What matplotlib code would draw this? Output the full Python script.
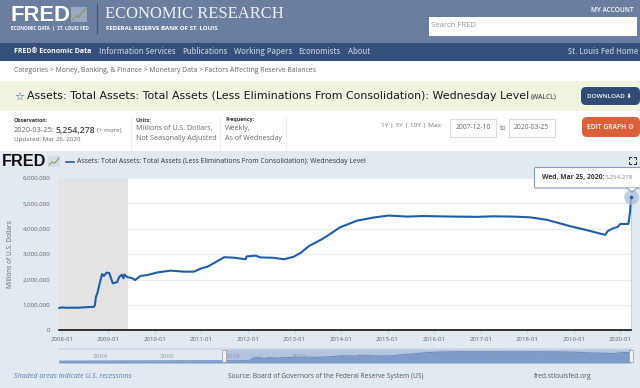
from datetime import datetime

import matplotlib

matplotlib.use("Agg")
import matplotlib.dates as mdates
import matplotlib.pyplot as plt
from matplotlib.patches import FancyBboxPatch, Polygon, Rectangle

# -----------------------------------------------------------------------------
# Data
# -----------------------------------------------------------------------------

DATES = [
    "2007-12-12", "2007-12-26", "2008-01-09", "2008-02-06", "2008-03-12",
    "2008-05-07", "2008-07-09", "2008-09-10", "2008-09-17", "2008-09-24",
    "2008-10-08", "2008-10-22", "2008-11-12", "2008-11-26", "2008-12-17",
    "2009-01-07", "2009-02-04", "2009-03-11", "2009-03-25", "2009-04-15",
    "2009-04-29", "2009-05-06", "2009-05-27", "2009-07-08", "2009-07-29",
    "2009-09-09", "2009-11-04", "2010-01-20", "2010-05-05", "2010-08-18",
    "2010-11-03", "2010-12-29", "2011-02-16", "2011-06-29", "2011-09-14",
    "2011-12-14", "2011-12-21", "2012-02-29", "2012-04-11", "2012-07-11",
    "2012-10-10", "2012-12-26", "2013-02-20", "2013-04-24", "2013-07-24",
    "2013-09-11", "2013-12-25", "2014-05-07", "2014-09-10", "2015-01-07",
    "2015-06-03", "2015-10-07", "2016-06-01", "2016-11-30", "2017-04-05",
    "2017-09-13", "2018-01-24", "2018-06-06", "2018-12-05", "2019-04-10",
    "2019-09-04", "2019-09-25", "2019-11-06", "2019-12-11", "2020-01-01",
    "2020-03-04", "2020-03-18", "2020-03-25",
]
ASSETS = [
    880000, 895000, 900000, 885000, 890000,
    890000, 910000, 925000, 1000000, 1300000,
    1500000, 1800000, 2220000, 2140000, 2270000,
    2260000, 1850000, 1900000, 2090000, 2190000,
    2050000, 2200000, 2100000, 2050000, 1980000,
    2140000, 2180000, 2280000, 2350000, 2310000,
    2310000, 2440000, 2500000, 2880000, 2860000,
    2800000, 2910000, 2940000, 2870000, 2860000,
    2800000, 2900000, 3060000, 3320000, 3560000,
    3710000, 4060000, 4320000, 4440000, 4520000,
    4480000, 4500000, 4480000, 4470000, 4490000,
    4480000, 4450000, 4350000, 4100000, 3950000,
    3760000, 3910000, 4020000, 4070000, 4190000,
    4190000, 4670000, 5254278,
]

# history that only the navigator shows
EARLY_DATES = ["2002-12-18", "2004-01-07", "2005-01-05", "2006-01-04", "2007-01-03"]
EARLY_ASSETS = [720000, 770000, 830000, 850000, 880000]

Y_TICKS = [0, 1000000, 2000000, 3000000, 4000000, 5000000, 6000000]
X_TICK_YEARS = list(range(2008, 2021))
NAV_LABEL_YEARS = [2004, 2006, 2008, 2010, 2012, 2014, 2016, 2018]

RECESSION = ("2007-12-01", "2009-06-01")
VIEW = ("2007-12-10", "2020-03-25")
NAV_VIEW = ("2002-12-18", "2020-03-25")

SERIES_NAME = "Assets: Total Assets: Total Assets (Less Eliminations From Consolidation): Wednesday Level"

# -----------------------------------------------------------------------------
# Configuration
# -----------------------------------------------------------------------------

W, H = 640, 388
FONT = "Open Sans"
TITLE_FONT = "DejaVu Sans"

HEADER = "#6a7ea0"
NAV_BAR = "#34507a"
TITLE_BAND = "#f1f3e1"
PANEL = "#e1e9f1"
LINE = "#1f5ea8"
TEXT = "#666666"
DARK = "#333333"


def to_date(s):
    return mdates.date2num(datetime.strptime(s, "%Y-%m-%d"))


def px_axes(fig, left, top, right, bottom):
    return fig.add_axes([left / W, 1 - bottom / H, (right - left) / W, (bottom - top) / H])


def label(ax, x, y, s, size=6.5, color=TEXT, weight="normal", ha="left", family=FONT, **kw):
    ax.text(x, y, s, fontsize=size, color=color, fontweight=weight, ha=ha, va="center", family=family, **kw)


def button(ax, x0, y0, x1, y1, color):
    ax.add_patch(
        FancyBboxPatch(
            (x0 + 4, y0 + 4), x1 - x0 - 8, y1 - y0 - 8,
            boxstyle="round,pad=4,rounding_size=5", fc=color, ec="none",
        )
    )


def input_box(ax, x0, y0, x1, y1, s):
    ax.add_patch(Rectangle((x0, y0), x1 - x0, y1 - y0, fc="white", ec="#dddddd", lw=0.8))
    label(ax, (x0 + x1) / 2, (y0 + y1) / 2, s, size=4.9, ha="center")


def draw_page(ax):
    # bands
    ax.add_patch(Rectangle((0, 0), W, 43, fc=HEADER, ec="none"))
    ax.add_patch(Rectangle((0, 43), W, 18, fc=NAV_BAR, ec="none"))
    ax.add_patch(Rectangle((0, 81), W, 30, fc=TITLE_BAND, ec="none"))
    ax.add_patch(Rectangle((0, 151), W, H - 151, fc=PANEL, ec="none"))

    # header
    label(ax, 10, 15.5, "FRED", size=15.8, color="white", weight="bold", family="Liberation Sans")
    ax.add_patch(Rectangle((71, 7), 16, 15, fc="#9aa9bf", ec="none"))
    ax.plot([72, 76, 79, 82, 86], [20, 16, 17, 12, 9], color="#7f9a5a", lw=0.9)
    label(ax, 11, 28.5, "ECONOMIC DATA  |  ST. LOUIS FED", size=3.4, color="white", weight="bold")
    ax.plot([96.5, 96.5], [4, 33], color="#3d5478", lw=0.8)
    label(ax, 105, 13.5, "ECONOMIC RESEARCH", size=12, color="#eef1f6", family="Liberation Serif")
    label(ax, 106, 28, "FEDERAL RESERVE BANK OF ST. LOUIS", size=4.4, color="white", weight="bold")
    label(ax, 634, 10, "MY ACCOUNT", size=4.7, color="white", weight="semibold", ha="right")
    ax.add_patch(Rectangle((429, 17), 208, 19, fc="white", ec="none"))
    label(ax, 431, 25.5, "Search FRED", size=5.6, color="#999999")

    # nav bar
    label(ax, 14, 51.5, "FRED\u00ae Economic Data", size=5.05, color="white", weight="bold")
    nav_items = [
        (99, "Information Services"),
        (182, "Publications"),
        (234, "Working Papers"),
        (298, "Economists"),
        (348, "About"),
    ]
    for x, s in nav_items:
        label(ax, x, 51.5, s, size=5.5, color="#b9c6d8", weight="semibold")
    label(ax, 638, 51.5, "St. Louis Fed Home", size=5.5, color="#b9c6d8", weight="semibold", ha="right")

    # breadcrumb
    label(
        ax, 14, 71,
        "Categories > Money, Banking, & Finance > Monetary Data > Factors Affecting Reserve Balances",
        size=4.95, color="#666666",
    )

    # title band
    label(ax, 14, 96.5, "\u2606", size=8, color="#2d5a9a", family="DejaVu Sans", weight="bold")
    label(ax, 27, 96, SERIES_NAME, size=7.9, color="#1a1a1a", family=TITLE_FONT)
    label(ax, 531, 97.5, "(WALCL)", size=4.8, color="#555555", weight="semibold")
    button(ax, 581, 87, 640, 105, "#2f4b76")
    label(ax, 587, 96.5, "DOWNLOAD \u2b07", size=4.6, color="white", weight="semibold", family=[FONT, "DejaVu Sans"])
    button(ax, 582, 117, 640, 137, "#d9603b")
    label(ax, 587, 127, "EDIT GRAPH \u2699", size=4.9, color="white", weight="semibold", family=[FONT, "DejaVu Sans"])

    # observation row
    label(ax, 14, 120, "Observation:", size=3.9, color="#333333", weight="bold")
    label(ax, 14, 130, "2020-03-25:", size=5.4)
    label(ax, 56, 130, "5,254,278", size=6.3, color="#444444", weight="semibold")
    label(ax, 97, 130.5, "(+ more)", size=4.5)
    label(ax, 14, 139.5, "Updated: Mar 26, 2020", size=4.5)
    ax.plot([130.5, 130.5], [116, 150], color="#eeeeee", lw=0.8)
    label(ax, 136, 120, "Units:", size=3.9, color="#333333", weight="bold")
    label(ax, 136, 128.5, "Millions of U.S. Dollars,", size=5.1)
    label(ax, 136, 138, "Not Seasonally Adjusted", size=5.1)
    ax.plot([219.5, 219.5], [116, 150], color="#eeeeee", lw=0.8)
    label(ax, 225, 120, "Frequency:", size=3.9, color="#333333", weight="bold")
    label(ax, 225, 128.5, "Weekly,", size=5.1)
    label(ax, 225, 138, "As of Wednesday", size=5.1)
    ax.plot([286, 286], [116, 150], color="#eeeeee", lw=0.8)

    # date range
    label(ax, 381, 126, "1Y | 5Y | 10Y | Max", size=4.65, color="#777777")
    input_box(ax, 449.5, 118.5, 496, 136.5, "2007-12-10")
    label(ax, 499.5, 128, "to", size=5)
    input_box(ax, 508.5, 118.5, 555, 136.5, "2020-03-25")

    # chart header
    label(ax, 2, 162, "FRED", size=11.7, color="#111111", weight="bold", family="Liberation Sans")
    ax.add_patch(Rectangle((48, 156), 12, 11, fc="#d5dbe0", ec="none"))
    ax.plot([49, 52, 55, 59], [165, 162, 163, 158], color="#7f9a5a", lw=0.7)
    ax.plot([65.5, 73.5], [161.5, 161.5], color=LINE, lw=1.2)
    label(ax, 77, 161.5, SERIES_NAME, size=4.96, color="#333333")

    # fullscreen icon
    ax.plot([629, 629, 631], [159, 157, 157], color="#222222", lw=0.7)
    ax.plot([634, 636, 636], [157, 157, 159], color="#222222", lw=0.7)
    ax.plot([629, 629, 631], [162, 164, 164], color="#222222", lw=0.7)
    ax.plot([634, 636, 636], [164, 164, 162], color="#222222", lw=0.7)

    # footer
    label(ax, 14, 376.5, "Shaded areas indicate U.S. recessions", size=5.1, color="#5b7aa8", style="italic")
    label(ax, 228, 376.5, "Source: Board of Governors of the Federal Reserve System (US)", size=4.8, color="#555555")
    label(ax, 534, 376.5, "fred.stlouisfed.org", size=4.9, color="#555555")


def draw_chart(fig, x, y):
    ax = px_axes(fig, 59, 178, 631, 330.3)
    ax.set_facecolor("white")
    ax.axvspan(to_date(RECESSION[0]), to_date(RECESSION[1]), color="#e3e3e3", lw=0, zorder=1)
    ax.plot(x, y, color=LINE, lw=1.5, zorder=3, clip_on=False)

    ax.set_xlim(to_date(VIEW[0]), to_date(VIEW[1]))
    ax.set_ylim(0, 6000000)
    ax.set_yticks(Y_TICKS)
    ax.set_yticklabels([f"{v:,}" for v in Y_TICKS], fontsize=4.4, color=TEXT, family=FONT)
    ax.set_xticks([to_date(f"{yr}-01-01") for yr in X_TICK_YEARS])
    ax.set_xticklabels([f"{yr}-01" for yr in X_TICK_YEARS], fontsize=4.4, color=TEXT, family=FONT)
    ax.tick_params(axis="y", length=0, pad=6)
    ax.tick_params(axis="x", length=3, width=0.6, color="#c0d0e0", pad=1.8)
    ax.grid(axis="y", color="#ececec", lw=0.8, zorder=2)
    ax.set_axisbelow(True)
    for side in ("top", "left"):
        ax.spines[side].set_visible(False)
    ax.spines["right"].set_color("#c8d4e0")
    ax.spines["right"].set_linewidth(0.8)
    ax.spines["bottom"].set_color("#111111")
    ax.spines["bottom"].set_linewidth(1.2)
    ax.set_ylabel("Millions of U.S. Dollars", fontsize=4.7, color=TEXT, family=FONT, labelpad=6.5)

    # hovered point
    ax.plot(x[-1], y[-1], "o", ms=10.5, mfc="#a9bfdc", mec="none", alpha=0.75, zorder=4, clip_on=False)
    ax.plot(x[-1], y[-1], "o", ms=2.6, mfc=LINE, mec="none", zorder=5, clip_on=False)


def draw_navigator(fig, x, y):
    ax = px_axes(fig, 59, 349, 631, 363)
    ax.set_xlim(to_date(NAV_VIEW[0]), to_date(NAV_VIEW[1]))
    ax.set_ylim(0, 5600000)
    ax.axis("off")
    ax.axhline(5600000, color="#cdd8e4", lw=1.2, clip_on=False)
    ax.axvspan(to_date(VIEW[0]), to_date(VIEW[1]), color="#b4c4e0", lw=0, zorder=1)
    ax.fill_between(x, y, color="#7f9cc8", lw=0, zorder=2)
    ax.plot(x, y, color="#6e8fbf", lw=0.8, zorder=3)
    for yr in NAV_LABEL_YEARS:
        ax.annotate(
            str(yr),
            xy=(to_date(f"{yr}-01-01"), 0),
            xytext=(5, 4.5),
            textcoords="offset points",
            fontsize=4.6,
            color="#8f98a8",
            family=FONT,
            ha="center",
            va="center",
            zorder=4,
        )


def draw_tooltip(ax):
    ax.add_patch(
        FancyBboxPatch(
            (534.5, 167.5), 108, 20.5, boxstyle="round,pad=0,rounding_size=1.5",
            fc="white", ec="#7f9cc8", lw=0.8, zorder=6,
        )
    )
    ax.add_patch(Polygon([[627, 188], [637, 188], [632, 192]], fc="white", ec="none", zorder=7))
    ax.plot([627, 632, 637], [188, 192, 188], color="#7f9cc8", lw=0.8, zorder=7)
    ax.text(541.5, 177.5, "Wed, Mar 25, 2020:", fontsize=4.9, fontweight="bold", color="#333333",
            family=FONT, va="center", zorder=8)
    ax.text(605, 177.5, "5,254,278", fontsize=4.5, color="#888888", family=FONT, va="center", zorder=8)
    # navigator handles
    for left in (221.5, 629):
        ax.add_patch(Rectangle((left, 350), 4, 12, fc="#f2f2f2", ec="#999999", lw=0.5, zorder=8))


def plot():
    x = [to_date(d) for d in DATES]
    x_nav = [to_date(d) for d in EARLY_DATES] + x
    y_nav = EARLY_ASSETS + ASSETS

    fig = plt.figure(figsize=(W / 100, H / 100), dpi=100, facecolor="white")

    page = px_axes(fig, 0, 0, W, H)
    page.set_xlim(0, W)
    page.set_ylim(H, 0)
    page.axis("off")
    draw_page(page)

    draw_chart(fig, x, ASSETS)
    draw_navigator(fig, x_nav, y_nav)

    over = px_axes(fig, 0, 0, W, H)
    over.set_xlim(0, W)
    over.set_ylim(H, 0)
    over.axis("off")
    over.patch.set_alpha(0)
    draw_tooltip(over)

    fig.savefig("out.png", dpi=100)
    plt.close(fig)


if __name__ == "__main__":
    plot()
